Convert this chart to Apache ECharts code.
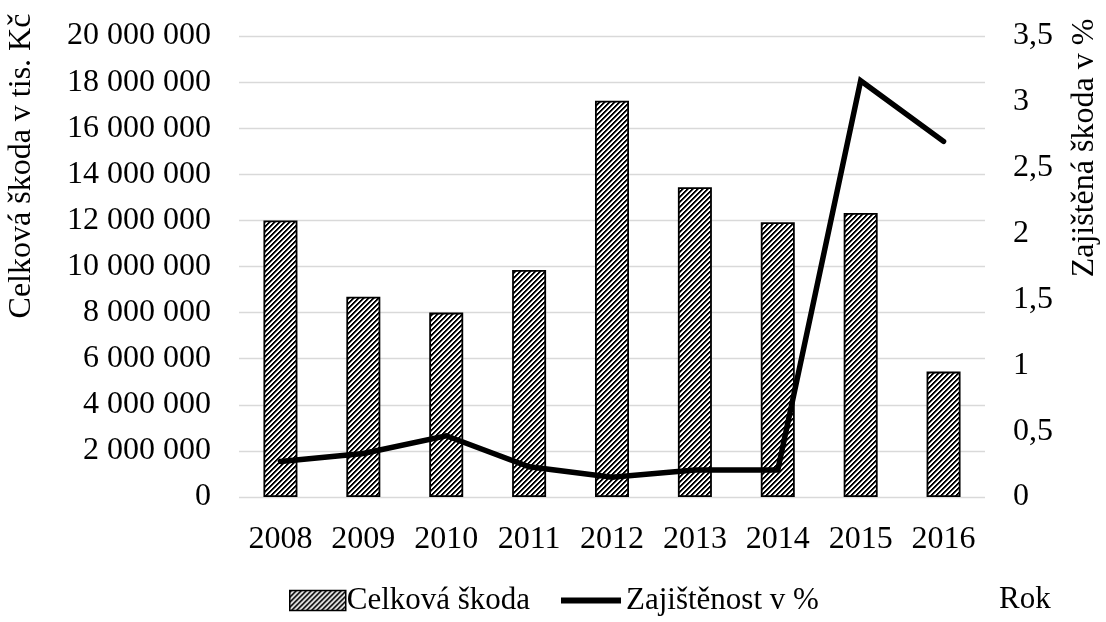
<!DOCTYPE html>
<html>
<head>
<meta charset="utf-8">
<script src="https://cdn.jsdelivr.net/npm/echarts@6/dist/echarts.min.js"></script>
<style>html,body{margin:0;padding:0;background:#fff}#c{width:1106px;height:622px}</style>
</head>
<body>
<div id="c"></div>
<script>
var years = ['2008','2009','2010','2011','2012','2013','2014','2015','2016'];
var totalDamage = [12000000, 8690000, 8000000, 9850000, 17190000, 13440000, 11920000, 12320000, 5440000];
var securedPct = [0.27, 0.33, 0.465, 0.23, 0.15, 0.205, 0.205, 3.16, 2.70];
var leftTicks = [0, 20000000, 2000000];
var rightTicks = [0, 3.5, 0.5];

var FONT = 'Liberation Serif';
function makePattern(){
  var s = 5;
  var c = document.createElement('canvas');
  c.width = s; c.height = s;
  var g = c.getContext('2d');
  g.fillStyle = '#fff'; g.fillRect(0,0,s,s);
  g.fillStyle = '#000';
  for (var x = 0; x < s; x++) {
    for (var y = 0; y < s; y++) {
      if ((x + y) % s < 2) g.fillRect(x, y, 1, 1);
    }
  }
  g.fillStyle = 'rgba(0,0,0,0.5)';
  for (var x2 = 0; x2 < s; x2++) {
    for (var y2 = 0; y2 < s; y2++) {
      if ((x2 + y2) % s === 2) g.fillRect(x2, y2, 1, 1);
    }
  }
  return c;
}
var pat = {image: makePattern(), repeat: 'repeat'};

function fmtSpace(v){
  return String(v).replace(/\B(?=(\d{3})+(?!\d))/g, ' ');
}
var legText = {fontFamily: FONT, fontSize: 31, color: '#000', padding: [0,0,0,-4]};
var chart = echarts.init(document.getElementById('c'));
chart.setOption({
  animation: false,
  textStyle: {fontFamily: FONT},
  grid: {left: 239, right: 121, top: 36, bottom: 125},
  legend: [
    {
      bottom: 1, left: 284,
      itemWidth: 56, itemHeight: 20,
      textStyle: legText,
      data: [{name: 'Celková škoda', icon: 'rect', itemStyle: {color: pat, borderColor: '#000', borderWidth: 1.5}}]
    },
    {
      bottom: 1, left: 556,
      itemWidth: 68, itemHeight: 6,
      textStyle: legText,
      data: [{name: 'Zajištěnost v %', icon: 'path://M0,0 L60,0 L60,6 L0,6 Z', itemStyle: {color: '#000'}}]
    }
  ],
  xAxis: {
    type: 'category', data: years,
    axisLine: {show: false}, axisTick: {show: false},
    axisLabel: {fontFamily: FONT, fontSize: 32, color: '#000', margin: 27, interval: 0}
  },
  yAxis: [
    {
      type: 'value', min: leftTicks[0], max: leftTicks[1], interval: leftTicks[2],
      axisLine: {show: false}, axisTick: {show: false},
      splitLine: {lineStyle: {color: '#d9d9d9', width: 1.3}},
      axisLabel: {fontFamily: FONT, fontSize: 32, color: '#000', margin: 28, formatter: fmtSpace}
    },
    {
      type: 'value', min: rightTicks[0], max: rightTicks[1], interval: rightTicks[2],
      axisLine: {show: false}, axisTick: {show: false}, splitLine: {show: false},
      axisLabel: {fontFamily: FONT, fontSize: 32, color: '#000', margin: 28,
        formatter: function(v){ return String(v).replace('.', ','); }}
    }
  ],
  series: [
    {
      name: 'Celková škoda', type: 'bar', data: totalDamage, barWidth: 34,
      itemStyle: {color: pat, borderColor: '#000', borderWidth: 1.8}
    },
    {
      name: 'Zajištěnost v %', type: 'line', yAxisIndex: 1, data: securedPct,
      symbol: 'none', lineStyle: {color: '#000', width: 5.5, cap: 'round', join: 'miter'},
      itemStyle: {color: '#000'}
    }
  ],
  graphic: [
    {type: 'text', x: 6, y: 166, rotation: Math.PI/2, style: {text: 'Celková škoda v tis. Kč', font: '32px "Liberation Serif"', fill: '#000', align: 'center', verticalAlign: 'top'}},
    {type: 'text', x: 1069, y: 148, rotation: Math.PI/2, style: {text: 'Zajištěná škoda v %', font: '32px "Liberation Serif"', fill: '#000', align: 'center', verticalAlign: 'top'}},
    {type: 'text', x: 999, y: 584, style: {text: 'Rok', font: '31px "Liberation Serif"', fill: '#000'}}
  ]
});
</script>
</body>
</html>
